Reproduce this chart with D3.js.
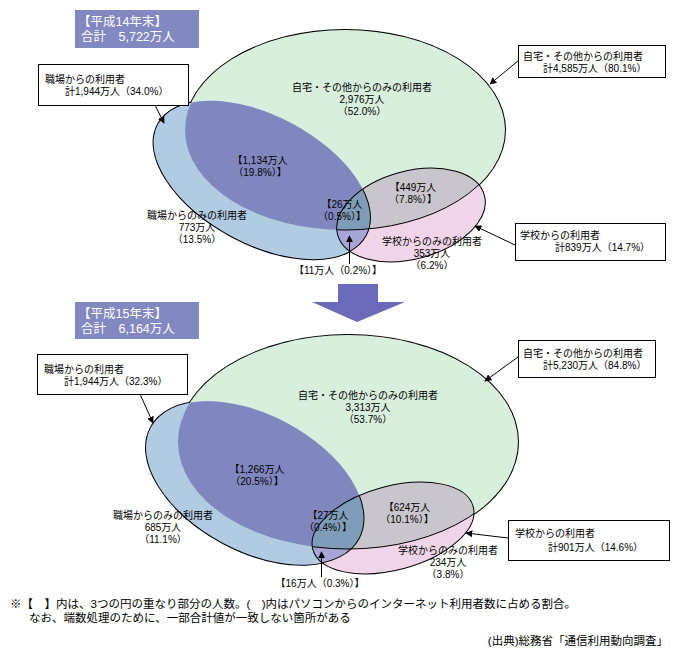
<!DOCTYPE html>
<html>
<head>
<meta charset="utf-8">
<script src="https://cdn.jsdelivr.net/npm/d3@7"></script>
<style>
  body { margin: 0; background: #fff; }
  text { font-family: "Liberation Sans", "Noto Sans CJK JP", sans-serif; }
</style>
</head>
<body>
<div id="display"></div>
<script>
// values per panel: [平成14年末, 平成15年末]
let years = ['平成14年末', '平成15年末'];
let grandTotals = [5722, 6164];
let homeTotals = [[4585, 80.1], [5230, 84.8]];
let workTotals = [[1944, 34.0], [1944, 32.3]];
let schoolTotals = [[839, 14.7], [901, 14.6]];
let homeOnly = [[2976, 52.0], [3313, 53.7]];
let workOnly = [[773, 13.5], [685, 11.1]];
let schoolOnly = [[353, 6.2], [234, 3.8]];
let homeWork = [[1134, 19.8], [1266, 20.5]];
let homeSchool = [[449, 7.8], [624, 10.1]];
let allThree = [[26, 0.5], [27, 0.4]];
let workSchool = [[11, 0.2], [16, 0.3]];

let notes = [
  '※【　】内は、3つの円の重なり部分の人数。(　)内はパソコンからのインターネット利用者数に占める割合。',
  'なお、端数処理のために、一部合計値が一致しない箇所がある'
];
let source = '(出典)総務省「通信利用動向調査」';

// geometry of each panel (positions only)
let layout = [
  {
    header: [75, 10, 124, 38],
    home: {cx: 345, cy: 130, rx: 160, ry: 100, rot: 0},
    work: {cx: 262, cy: 180, rx: 118, ry: 64, rot: 28},
    school: {cx: 411, cy: 215, rx: 76, ry: 44, rot: -15},
    homeOnly: [362, 87], homeWork: [260, 160], workOnly: [197, 215],
    allThree: [342, 204], homeSchool: [413, 187], schoolOnly: [432, 241],
    workSchool: {line: [349, 264, 349, 236], text: [338, 270]},
    workBox: {box: [38, 64, 150, 41], l1: [45, 79], l2: [65, 91], arrow: [155, 105, 164, 123]},
    homeBox: {box: [518, 45, 147, 32], l1: [523, 56], l2: [543, 68], arrow: [518, 61, 490, 84]},
    schoolBox: {box: [515, 223, 150, 37], l1: [520, 235], l2: [555, 247], arrow: [515, 245, 475, 226]}
  },
  {
    header: [75, 302, 124, 37],
    home: {cx: 348, cy: 442, rx: 170, ry: 107, rot: 0},
    work: {cx: 255, cy: 483, rx: 118, ry: 68, rot: 28},
    school: {cx: 393, cy: 528, rx: 83, ry: 42, rot: -15},
    homeOnly: [368, 395], homeWork: [257, 469], workOnly: [163, 515],
    allThree: [328, 515], homeSchool: [407, 507], schoolOnly: [448, 550],
    workSchool: {line: [321, 577, 321, 552], text: [320, 583]},
    workBox: {box: [37, 354, 150, 40], l1: [44, 369], l2: [64, 381], arrow: [140, 394, 153, 423]},
    homeBox: {box: [518, 340, 137, 37], l1: [523, 353], l2: [543, 365], arrow: [518, 357, 485, 381]},
    schoolBox: {box: [508, 520, 161, 40], l1: [515, 533], l2: [548, 547], arrow: [508, 538, 466, 533]}
  }
];

let colors = {
  home: '#d8efdd', work: '#b1cce2', homeWork: '#8087bf', school: '#efd5e7',
  homeSchool: '#c8c5cc', workSchool: '#a6a5d6', allThree: '#7f9db8',
  header: '#8288c0', bigArrow: '#6b69b9'
};

let width = 676, height = 659;
let fmt = d3.format(',');
let pct = v => v.toFixed(1) + '%';

let svg = d3.select('#display')
  .append('svg')
    .attr('width', width)
    .attr('height', height);

let defs = svg.append('defs');
defs.append('marker')
    .attr('id', 'tip')
    .attr('viewBox', '0 0 10 10')
    .attr('refX', 9).attr('refY', 5)
    .attr('markerWidth', 7).attr('markerHeight', 7)
    .attr('markerUnits', 'userSpaceOnUse')
    .attr('orient', 'auto')
  .append('path')
    .attr('d', 'M0,0 L10,5 L0,10 z')
    .attr('fill', '#000');

let ellipse = (sel, e) => sel.append('ellipse')
    .attr('cx', e.cx).attr('cy', e.cy)
    .attr('rx', e.rx).attr('ry', e.ry)
    .attr('transform', `rotate(${e.rot},${e.cx},${e.cy})`);

// multi-line label, one tspan per line
let lines = (g, x, y, arr, anchor, size) => {
  let t = g.append('text')
      .attr('text-anchor', anchor || 'middle')
      .attr('font-size', size || 10)
      .attr('fill', '#000');
  arr.forEach((s, i) => {
    t.append('tspan')
      .attr('x', x)
      .attr('y', y + i * 12)
      .attr('dy', '0.35em')
      .text(s);
  });
  return t;
};

let callout = (g, c, a, b) => {
  g.append('line')
      .attr('x1', c.arrow[0]).attr('y1', c.arrow[1])
      .attr('x2', c.arrow[2]).attr('y2', c.arrow[3])
      .attr('stroke', '#000').attr('stroke-width', 1)
      .attr('marker-end', 'url(#tip)');
  g.append('rect')
      .attr('x', c.box[0] + 0.5).attr('y', c.box[1] + 0.5)
      .attr('width', c.box[2]).attr('height', c.box[3])
      .attr('fill', '#fff').attr('stroke', '#000');
  lines(g, c.l1[0], c.l1[1], [a], 'start');
  lines(g, c.l2[0], c.l2[1], [b], 'start');
};

layout.forEach((L, i) => {
  let g = svg.append('g');

  // clip paths for overlaps
  ['home', 'work', 'school'].forEach(k => {
    ellipse(defs.append('clipPath').attr('id', `clip-${k}-${i}`), L[k]);
  });

  // outer outline of home + work (thick, then covered by fills)
  ellipse(g, L.home).attr('fill', 'none').attr('stroke', '#000').attr('stroke-width', 2);
  ellipse(g, L.work).attr('fill', 'none').attr('stroke', '#000').attr('stroke-width', 2);
  ellipse(g, L.home).attr('fill', colors.home);
  ellipse(g, L.work).attr('fill', colors.work);
  ellipse(g.append('g').attr('clip-path', `url(#clip-home-${i})`), L.work)
      .attr('fill', colors.homeWork);

  // school and its overlaps
  ellipse(g, L.school).attr('fill', colors.school);
  ellipse(g.append('g').attr('clip-path', `url(#clip-home-${i})`), L.school)
      .attr('fill', colors.homeSchool);
  ellipse(g.append('g').attr('clip-path', `url(#clip-work-${i})`), L.school)
      .attr('fill', colors.workSchool);
  ellipse(g.append('g').attr('clip-path', `url(#clip-home-${i})`)
      .append('g').attr('clip-path', `url(#clip-work-${i})`), L.school)
      .attr('fill', colors.allThree);
  ellipse(g, L.school).attr('fill', 'none').attr('stroke', '#000');
  let inSchool = g.append('g').attr('clip-path', `url(#clip-school-${i})`);
  ellipse(inSchool, L.home).attr('fill', 'none').attr('stroke', '#000');
  ellipse(inSchool, L.work).attr('fill', 'none').attr('stroke', '#000');

  // header box
  g.append('rect')
      .attr('x', L.header[0]).attr('y', L.header[1])
      .attr('width', L.header[2]).attr('height', L.header[3])
      .attr('fill', colors.header);
  g.append('text')
      .attr('x', L.header[0] + 3).attr('y', L.header[1] + 12).attr('dy', '0.35em')
      .attr('font-size', 12.5).attr('fill', '#fff')
      .text(`【${years[i]}】`);
  g.append('text')
      .attr('x', L.header[0] + 6).attr('y', L.header[1] + 27).attr('dy', '0.35em')
      .attr('font-size', 12.5).attr('fill', '#fff')
      .text(`合計　${fmt(grandTotals[i])}万人`);

  // region labels
  lines(g, L.homeOnly[0], L.homeOnly[1],
    ['自宅・その他からのみの利用者', `${fmt(homeOnly[i][0])}万人`, `（${pct(homeOnly[i][1])}）`]);
  lines(g, L.homeWork[0], L.homeWork[1],
    [`【${fmt(homeWork[i][0])}万人`, `（${pct(homeWork[i][1])}）】`]);
  lines(g, L.workOnly[0], L.workOnly[1],
    ['職場からのみの利用者', `${fmt(workOnly[i][0])}万人`, `（${pct(workOnly[i][1])}）`]);
  lines(g, L.allThree[0], L.allThree[1],
    [`【${fmt(allThree[i][0])}万人`, `（${pct(allThree[i][1])}）】`]);
  lines(g, L.homeSchool[0], L.homeSchool[1],
    [`【${fmt(homeSchool[i][0])}万人`, `（${pct(homeSchool[i][1])}）】`]);
  lines(g, L.schoolOnly[0], L.schoolOnly[1],
    ['学校からのみの利用者', `${fmt(schoolOnly[i][0])}万人`, `（${pct(schoolOnly[i][1])}）`]);

  // work + school only
  let ws = L.workSchool;
  g.append('line')
      .attr('x1', ws.line[0] + 0.5).attr('y1', ws.line[1])
      .attr('x2', ws.line[2] + 0.5).attr('y2', ws.line[3])
      .attr('stroke', '#000').attr('marker-end', 'url(#tip)');
  lines(g, ws.text[0], ws.text[1],
    [`【${fmt(workSchool[i][0])}万人（${pct(workSchool[i][1])}）】`]);

  // callouts with set totals
  callout(g, L.workBox, '職場からの利用者',
    `計${fmt(workTotals[i][0])}万人（${pct(workTotals[i][1])}）`);
  callout(g, L.homeBox, '自宅・その他からの利用者',
    `計${fmt(homeTotals[i][0])}万人（${pct(homeTotals[i][1])}）`);
  callout(g, L.schoolBox, '学校からの利用者',
    `計${fmt(schoolTotals[i][0])}万人（${pct(schoolTotals[i][1])}）`);
});

// big arrow between the two years
svg.append('path')
    .attr('d', 'M338,284 L378,284 L378,302 L405,302 L357,322 L312,302 L338,302 Z')
    .attr('fill', colors.bigArrow);

// footnotes
notes.forEach((n, i) => {
  svg.append('text')
      .attr('x', i ? 29 : 10).attr('y', 604 + i * 14).attr('dy', '0.35em')
      .attr('font-size', 11.5)
      .text(n);
});
svg.append('text')
    .attr('x', 668).attr('y', 641).attr('dy', '0.35em')
    .attr('text-anchor', 'end')
    .attr('font-size', 11.5)
    .text(source);
</script>
</body>
</html>
